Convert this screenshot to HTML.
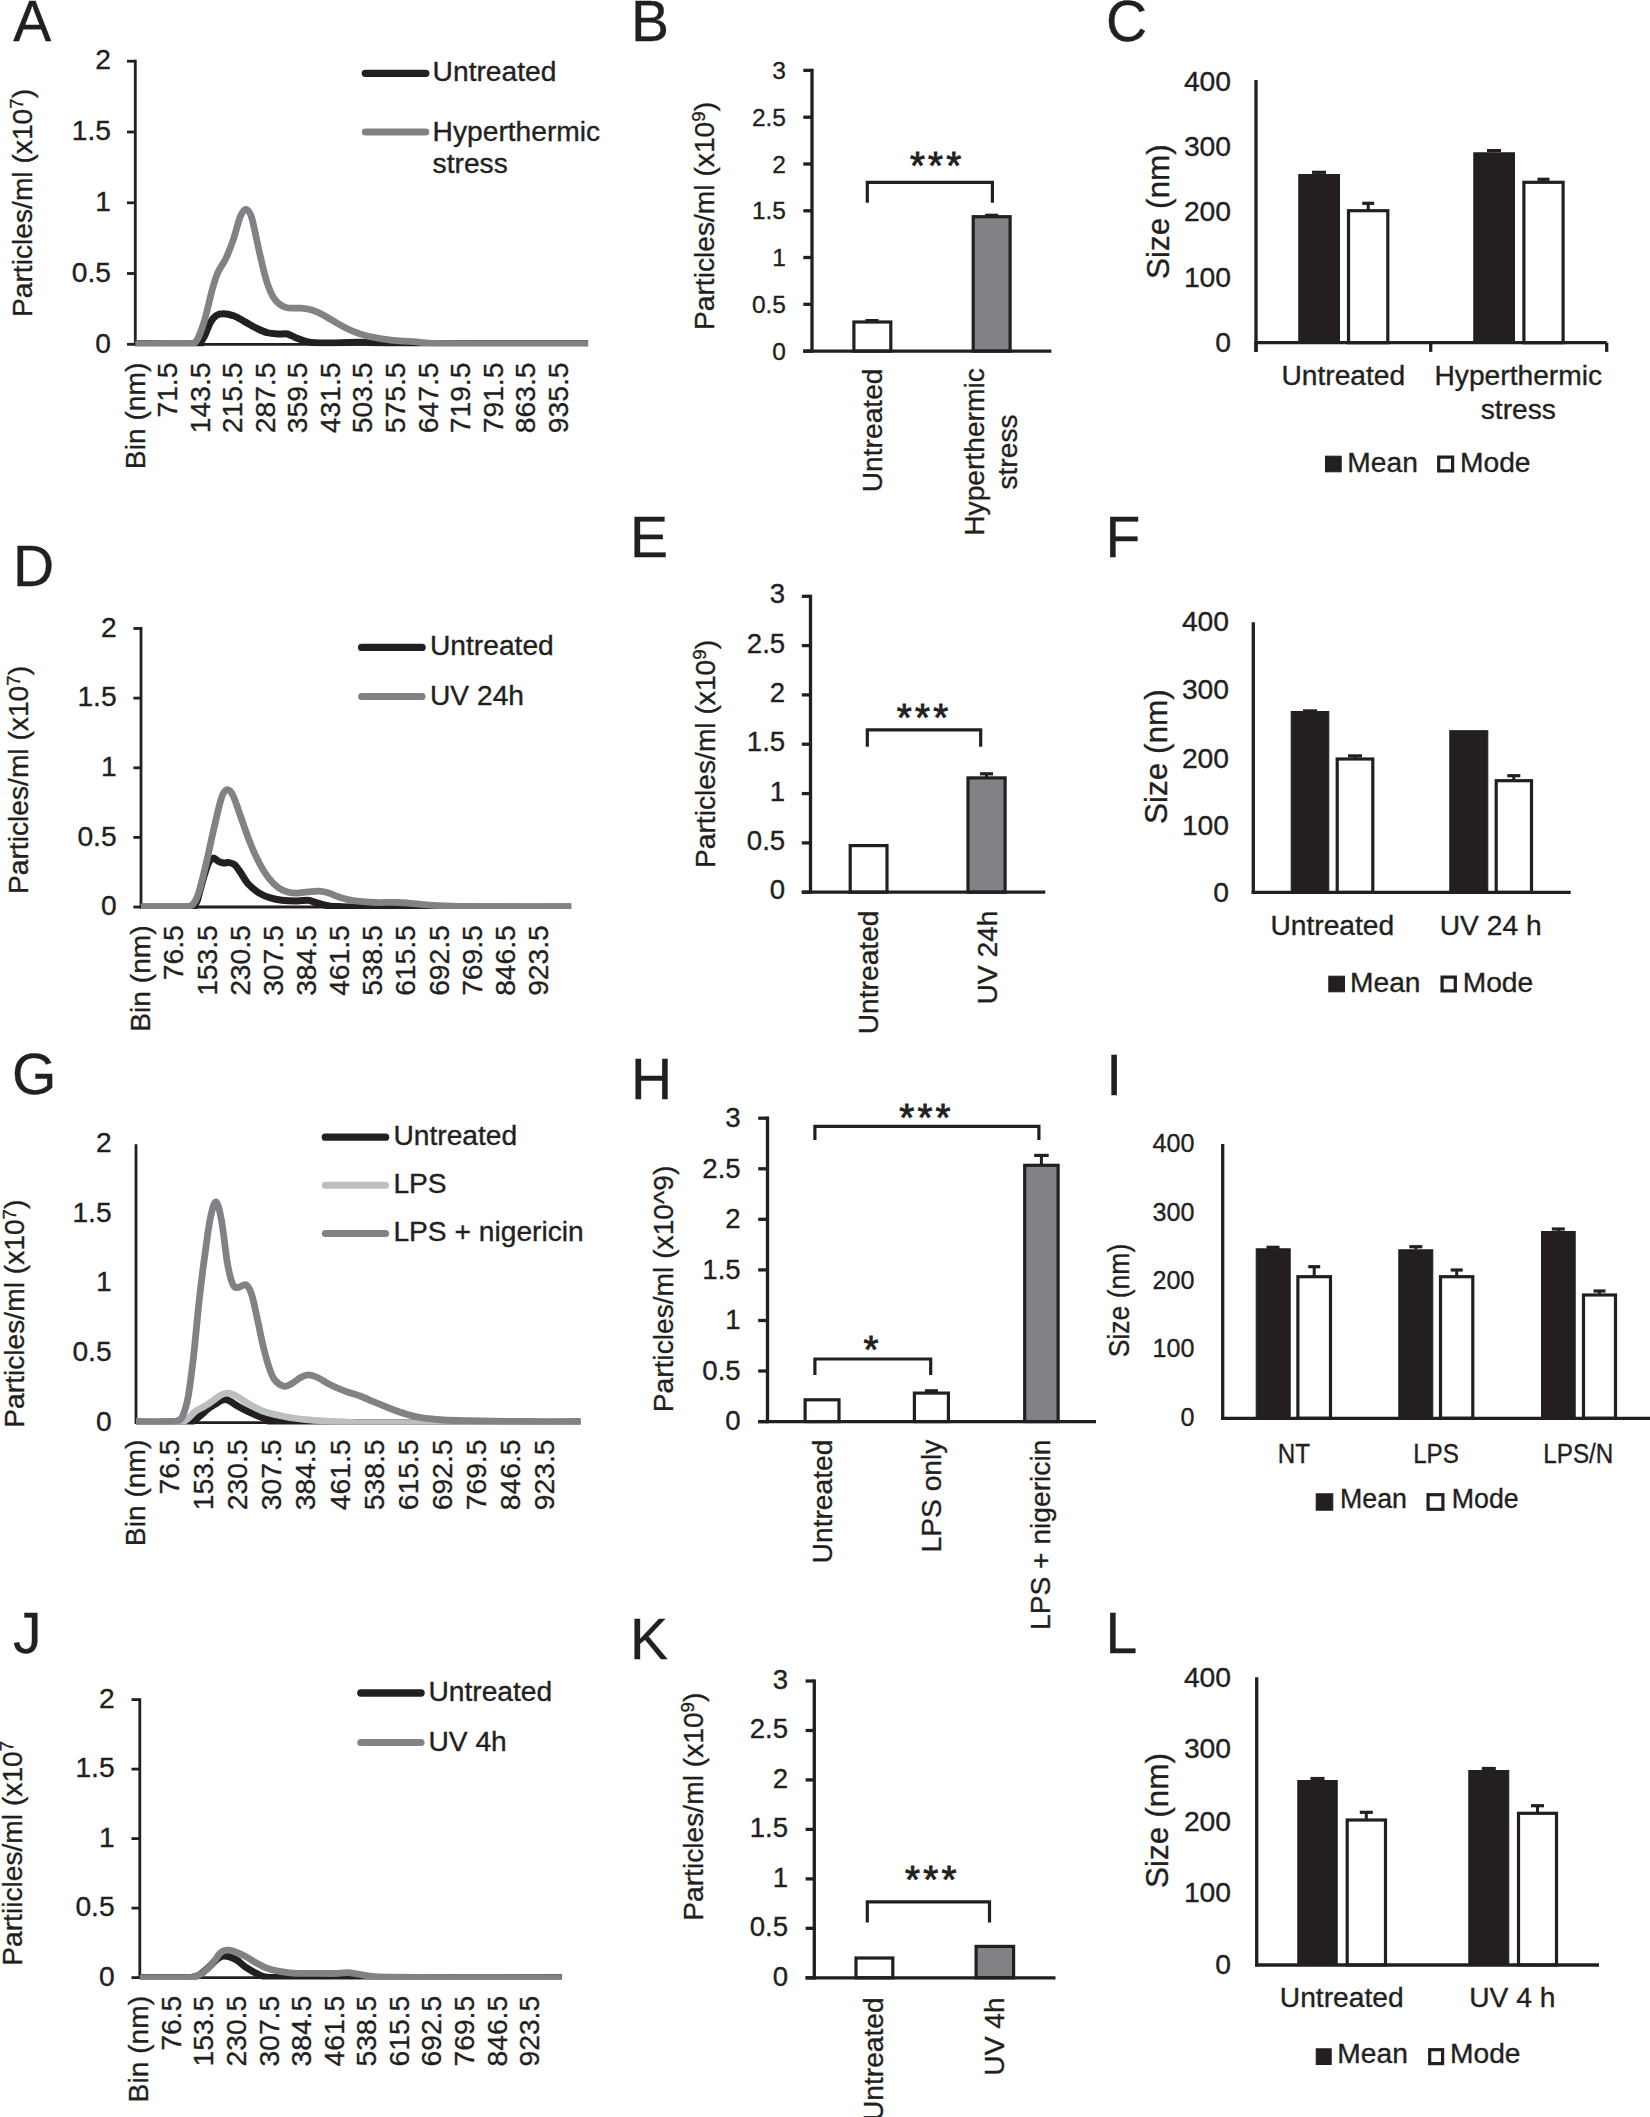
<!DOCTYPE html>
<html><head><meta charset="utf-8"><title>Figure</title>
<style>
html,body{margin:0;padding:0;background:#fff;}
svg{display:block;}
svg text{font-family:'Liberation Sans', sans-serif;fill:#231f20;stroke:#231f20;stroke-width:0.35px;}
</style></head>
<body>
<svg width="1650" height="2117" viewBox="0 0 1650 2117">
<rect x="0" y="0" width="1650" height="2117" fill="#fff"/>
<text x="13.3" y="41.0" font-size="57" text-anchor="start">A</text>
<line x1="135.3" y1="59.8" x2="135.3" y2="345.7" stroke="#231f20" stroke-width="2.8" stroke-linecap="butt"/>
<line x1="134.8" y1="344.3" x2="588.0" y2="344.3" stroke="#231f20" stroke-width="2.8" stroke-linecap="butt"/>
<line x1="127.0" y1="61.2" x2="135.3" y2="61.2" stroke="#231f20" stroke-width="2.8" stroke-linecap="butt"/>
<text x="111.0" y="69.4" font-size="28.2" text-anchor="end">2</text>
<line x1="127.0" y1="132.0" x2="135.3" y2="132.0" stroke="#231f20" stroke-width="2.8" stroke-linecap="butt"/>
<text x="111.0" y="140.2" font-size="28.2" text-anchor="end">1.5</text>
<line x1="127.0" y1="202.8" x2="135.3" y2="202.8" stroke="#231f20" stroke-width="2.8" stroke-linecap="butt"/>
<text x="111.0" y="211.0" font-size="28.2" text-anchor="end">1</text>
<line x1="127.0" y1="273.5" x2="135.3" y2="273.5" stroke="#231f20" stroke-width="2.8" stroke-linecap="butt"/>
<text x="111.0" y="281.7" font-size="28.2" text-anchor="end">0.5</text>
<line x1="127.0" y1="344.3" x2="135.3" y2="344.3" stroke="#231f20" stroke-width="2.8" stroke-linecap="butt"/>
<text x="111.0" y="352.5" font-size="28.2" text-anchor="end">0</text>
<text x="144.7" y="362.6" font-size="28.2" text-anchor="end" transform="rotate(-90 144.7 362.6)">Bin (nm)</text>
<text x="177.2" y="362.6" font-size="28.2" text-anchor="end" transform="rotate(-90 177.2 362.6)">71.5</text>
<text x="209.8" y="362.6" font-size="28.2" text-anchor="end" transform="rotate(-90 209.8 362.6)">143.5</text>
<text x="242.3" y="362.6" font-size="28.2" text-anchor="end" transform="rotate(-90 242.3 362.6)">215.5</text>
<text x="274.9" y="362.6" font-size="28.2" text-anchor="end" transform="rotate(-90 274.9 362.6)">287.5</text>
<text x="307.4" y="362.6" font-size="28.2" text-anchor="end" transform="rotate(-90 307.4 362.6)">359.5</text>
<text x="340.0" y="362.6" font-size="28.2" text-anchor="end" transform="rotate(-90 340.0 362.6)">431.5</text>
<text x="372.5" y="362.6" font-size="28.2" text-anchor="end" transform="rotate(-90 372.5 362.6)">503.5</text>
<text x="405.1" y="362.6" font-size="28.2" text-anchor="end" transform="rotate(-90 405.1 362.6)">575.5</text>
<text x="437.6" y="362.6" font-size="28.2" text-anchor="end" transform="rotate(-90 437.6 362.6)">647.5</text>
<text x="470.2" y="362.6" font-size="28.2" text-anchor="end" transform="rotate(-90 470.2 362.6)">719.5</text>
<text x="502.7" y="362.6" font-size="28.2" text-anchor="end" transform="rotate(-90 502.7 362.6)">791.5</text>
<text x="535.3" y="362.6" font-size="28.2" text-anchor="end" transform="rotate(-90 535.3 362.6)">863.5</text>
<text x="567.8" y="362.6" font-size="28.2" text-anchor="end" transform="rotate(-90 567.8 362.6)">935.5</text>
<text x="31.5" y="203.0" font-size="28.2" text-anchor="middle" transform="rotate(-90 31.5 203.0)">Particles/ml (x10<tspan font-size="18.6" dy="-8.5">7</tspan><tspan dy="8.5">)</tspan></text>
<clipPath id="cp1"><rect x="129.3" y="31.2" width="464.7" height="315.1"/></clipPath>
<g clip-path="url(#cp1)">
<path d="M135.3,343.8 C145.3,343.8 184.6,344.0 195.4,343.8 C206.2,343.6 198.3,344.1 199.9,342.7 C201.5,341.3 203.0,338.9 204.8,335.6 C206.5,332.2 208.5,325.7 210.4,322.4 C212.3,319.1 213.9,317.1 216.1,315.6 C218.3,314.2 220.8,313.8 223.6,313.8 C226.4,313.8 229.5,314.4 233.0,315.6 C236.4,316.9 240.5,319.3 244.2,321.3 C248.0,323.3 251.8,325.8 255.5,327.7 C259.3,329.5 263.0,331.5 266.8,332.5 C270.5,333.6 274.6,333.8 278.1,334.0 C281.5,334.3 284.3,333.4 287.5,334.0 C290.6,334.7 293.4,336.9 296.8,338.2 C300.3,339.5 303.7,341.1 308.1,341.9 C312.5,342.8 314.4,343.0 323.2,343.1 C331.9,343.1 352.0,342.3 360.7,342.3 C369.5,342.3 367.0,342.8 375.8,343.1 C384.5,343.3 377.9,343.7 413.3,343.8 C448.7,343.9 558.9,343.8 588.1,343.8" fill="none" stroke="#231f20" stroke-width="7.0" stroke-linecap="butt" stroke-linejoin="round"/>
<path d="M135.3,343.8 C142.2,343.8 167.2,343.9 176.6,343.8 C186.0,343.8 188.2,344.2 191.6,343.4 C195.1,342.7 195.1,343.3 197.3,339.3 C199.5,335.3 202.3,327.7 204.8,319.4 C207.3,311.1 210.1,297.2 212.3,289.3 C214.5,281.5 215.7,277.4 217.9,272.4 C220.1,267.4 222.9,264.6 225.5,259.3 C228.0,253.9 230.5,247.7 233.0,240.5 C235.5,233.3 238.3,221.3 240.5,216.1 C242.7,210.9 244.2,209.0 246.1,209.3 C248.0,209.6 249.6,210.9 251.8,217.9 C253.9,225.0 256.8,241.1 259.3,251.8 C261.8,262.4 264.3,274.0 266.8,281.8 C269.3,289.6 271.2,294.5 274.3,298.7 C277.4,303.0 281.2,305.8 285.6,307.4 C290.0,308.9 296.2,307.7 300.6,308.1 C305.0,308.6 308.1,308.9 311.9,310.0 C315.6,311.1 318.8,312.6 323.2,314.9 C327.5,317.2 333.2,321.1 338.2,323.9 C343.2,326.7 348.2,329.4 353.2,331.4 C358.2,333.5 362.0,334.9 368.2,336.3 C374.5,337.7 383.3,339.2 390.8,340.1 C398.3,340.9 405.8,341.0 413.3,341.6 C420.8,342.1 423.4,343.1 435.9,343.4 C448.4,343.8 463.1,343.8 488.5,343.8 C513.8,343.9 571.5,343.8 588.1,343.8" fill="none" stroke="#808285" stroke-width="6.8" stroke-linecap="butt" stroke-linejoin="round"/>
</g>
<line x1="365.3" y1="73.3" x2="425.8" y2="73.3" stroke="#231f20" stroke-width="7.3" stroke-linecap="round"/>
<text x="432.6" y="80.8" font-size="28.2" text-anchor="start">Untreated</text>
<line x1="365.3" y1="132.0" x2="425.8" y2="132.0" stroke="#808285" stroke-width="7.0" stroke-linecap="round"/>
<text x="432.6" y="141.0" font-size="28.2" text-anchor="start">Hyperthermic</text>
<text x="432.6" y="173.0" font-size="28.2" text-anchor="start">stress</text>
<text x="13.0" y="586.4" font-size="57" text-anchor="start">D</text>
<line x1="141.0" y1="627.1" x2="141.0" y2="908.4" stroke="#231f20" stroke-width="2.8" stroke-linecap="butt"/>
<line x1="140.5" y1="907.0" x2="571.0" y2="907.0" stroke="#231f20" stroke-width="2.8" stroke-linecap="butt"/>
<line x1="133.4" y1="628.5" x2="141.0" y2="628.5" stroke="#231f20" stroke-width="2.8" stroke-linecap="butt"/>
<text x="116.6" y="636.7" font-size="28.2" text-anchor="end">2</text>
<line x1="133.4" y1="698.1" x2="141.0" y2="698.1" stroke="#231f20" stroke-width="2.8" stroke-linecap="butt"/>
<text x="116.6" y="706.3" font-size="28.2" text-anchor="end">1.5</text>
<line x1="133.4" y1="767.8" x2="141.0" y2="767.8" stroke="#231f20" stroke-width="2.8" stroke-linecap="butt"/>
<text x="116.6" y="776.0" font-size="28.2" text-anchor="end">1</text>
<line x1="133.4" y1="837.4" x2="141.0" y2="837.4" stroke="#231f20" stroke-width="2.8" stroke-linecap="butt"/>
<text x="116.6" y="845.6" font-size="28.2" text-anchor="end">0.5</text>
<line x1="133.4" y1="907.0" x2="141.0" y2="907.0" stroke="#231f20" stroke-width="2.8" stroke-linecap="butt"/>
<text x="116.6" y="915.2" font-size="28.2" text-anchor="end">0</text>
<text x="150.3" y="925.3" font-size="28.2" text-anchor="end" transform="rotate(-90 150.3 925.3)">Bin (nm)</text>
<text x="183.5" y="925.3" font-size="28.2" text-anchor="end" transform="rotate(-90 183.5 925.3)">76.5</text>
<text x="216.6" y="925.3" font-size="28.2" text-anchor="end" transform="rotate(-90 216.6 925.3)">153.5</text>
<text x="249.8" y="925.3" font-size="28.2" text-anchor="end" transform="rotate(-90 249.8 925.3)">230.5</text>
<text x="282.9" y="925.3" font-size="28.2" text-anchor="end" transform="rotate(-90 282.9 925.3)">307.5</text>
<text x="316.1" y="925.3" font-size="28.2" text-anchor="end" transform="rotate(-90 316.1 925.3)">384.5</text>
<text x="349.2" y="925.3" font-size="28.2" text-anchor="end" transform="rotate(-90 349.2 925.3)">461.5</text>
<text x="382.4" y="925.3" font-size="28.2" text-anchor="end" transform="rotate(-90 382.4 925.3)">538.5</text>
<text x="415.5" y="925.3" font-size="28.2" text-anchor="end" transform="rotate(-90 415.5 925.3)">615.5</text>
<text x="448.6" y="925.3" font-size="28.2" text-anchor="end" transform="rotate(-90 448.6 925.3)">692.5</text>
<text x="481.8" y="925.3" font-size="28.2" text-anchor="end" transform="rotate(-90 481.8 925.3)">769.5</text>
<text x="515.0" y="925.3" font-size="28.2" text-anchor="end" transform="rotate(-90 515.0 925.3)">846.5</text>
<text x="548.1" y="925.3" font-size="28.2" text-anchor="end" transform="rotate(-90 548.1 925.3)">923.5</text>
<text x="28.2" y="780.0" font-size="28.2" text-anchor="middle" transform="rotate(-90 28.2 780.0)">Particles/ml (x10<tspan font-size="18.6" dy="-8.5">7</tspan><tspan dy="8.5">)</tspan></text>
<clipPath id="cp2"><rect x="135.0" y="598.5" width="442.0" height="310.5"/></clipPath>
<g clip-path="url(#cp2)">
<path d="M140.9,907.0 C149.1,907.0 181.0,907.1 189.8,907.0 C198.5,906.8 192.3,907.3 193.5,906.2 C194.8,905.1 195.7,905.0 197.3,900.6 C198.8,896.2 201.0,886.2 202.9,879.9 C204.8,873.6 206.8,866.6 208.5,863.0 C210.3,859.4 211.9,858.4 213.4,858.1 C215.0,857.8 216.2,860.3 217.9,861.1 C219.6,861.9 221.7,862.7 223.6,863.0 C225.5,863.2 227.3,862.3 229.2,862.6 C231.1,862.9 233.0,863.2 234.8,864.9 C236.7,866.5 238.3,869.3 240.5,872.4 C242.7,875.5 244.9,880.2 248.0,883.7 C251.1,887.1 255.5,890.7 259.3,893.1 C263.0,895.4 266.8,896.8 270.5,897.9 C274.3,899.1 277.4,899.7 281.8,900.2 C286.2,900.7 292.5,900.9 296.8,900.9 C301.2,900.9 305.0,899.9 308.1,900.2 C311.3,900.4 312.5,901.6 315.6,902.5 C318.8,903.3 323.2,904.8 326.9,905.5 C330.7,906.1 330.0,906.3 338.2,906.6 C346.3,906.8 336.9,906.9 375.8,907.0 C414.6,907.0 538.6,907.0 571.2,907.0" fill="none" stroke="#231f20" stroke-width="7.0" stroke-linecap="butt" stroke-linejoin="round"/>
<path d="M140.9,907.0 C147.5,907.0 172.5,907.0 180.4,907.0 C188.2,906.9 185.7,907.1 187.9,906.6 C190.1,906.0 191.6,906.1 193.5,903.6 C195.4,901.0 197.0,898.3 199.2,891.2 C201.3,884.1 204.2,871.8 206.7,861.1 C209.2,850.5 211.7,837.9 214.2,827.3 C216.7,816.7 219.5,803.5 221.7,797.2 C223.9,791.0 225.5,790.0 227.3,789.7 C229.2,789.4 230.8,791.0 233.0,795.4 C235.2,799.7 237.7,808.2 240.5,816.0 C243.3,823.9 246.7,834.5 249.9,842.3 C253.0,850.2 256.1,857.0 259.3,863.0 C262.4,868.9 265.5,874.0 268.7,878.0 C271.8,882.1 274.9,885.1 278.1,887.4 C281.2,889.7 284.3,891.0 287.5,891.9 C290.6,892.9 293.4,893.1 296.8,893.1 C300.3,893.1 304.4,892.2 308.1,891.9 C311.9,891.6 315.9,891.0 319.4,891.2 C322.8,891.4 325.7,892.1 328.8,893.1 C331.9,894.0 334.1,895.6 338.2,896.8 C342.3,898.1 346.9,899.6 353.2,900.6 C359.5,901.5 368.2,902.1 375.8,902.5 C383.3,902.8 390.8,902.1 398.3,902.5 C405.8,902.8 412.1,903.7 420.8,904.3 C429.6,905.0 439.6,905.8 450.9,906.2 C462.2,906.6 468.4,906.8 488.5,907.0 C508.5,907.1 557.4,907.0 571.2,907.0" fill="none" stroke="#808285" stroke-width="6.8" stroke-linecap="butt" stroke-linejoin="round"/>
</g>
<line x1="361.6" y1="647.4" x2="422.1" y2="647.4" stroke="#231f20" stroke-width="7.3" stroke-linecap="round"/>
<text x="430.0" y="654.8" font-size="28.2" text-anchor="start">Untreated</text>
<line x1="361.6" y1="696.4" x2="422.1" y2="696.4" stroke="#808285" stroke-width="7.0" stroke-linecap="round"/>
<text x="430.0" y="704.7" font-size="28.2" text-anchor="start">UV 24h</text>
<text x="12.0" y="1094.2" font-size="57" text-anchor="start">G</text>
<line x1="136.0" y1="1144.3" x2="136.0" y2="1424.0" stroke="#231f20" stroke-width="2.8" stroke-linecap="butt"/>
<line x1="135.5" y1="1422.6" x2="580.6" y2="1422.6" stroke="#231f20" stroke-width="2.8" stroke-linecap="butt"/>
<text x="111.6" y="1151.9" font-size="28.2" text-anchor="end">2</text>
<text x="111.6" y="1221.8" font-size="28.2" text-anchor="end">1.5</text>
<text x="111.6" y="1291.3" font-size="28.2" text-anchor="end">1</text>
<text x="111.6" y="1361.0" font-size="28.2" text-anchor="end">0.5</text>
<text x="111.6" y="1430.6" font-size="28.2" text-anchor="end">0</text>
<text x="144.7" y="1439.6" font-size="28.2" text-anchor="end" transform="rotate(-90 144.7 1439.6)">Bin (nm)</text>
<text x="178.8" y="1439.6" font-size="28.2" text-anchor="end" transform="rotate(-90 178.8 1439.6)">76.5</text>
<text x="213.0" y="1439.6" font-size="28.2" text-anchor="end" transform="rotate(-90 213.0 1439.6)">153.5</text>
<text x="247.1" y="1439.6" font-size="28.2" text-anchor="end" transform="rotate(-90 247.1 1439.6)">230.5</text>
<text x="281.3" y="1439.6" font-size="28.2" text-anchor="end" transform="rotate(-90 281.3 1439.6)">307.5</text>
<text x="315.4" y="1439.6" font-size="28.2" text-anchor="end" transform="rotate(-90 315.4 1439.6)">384.5</text>
<text x="349.6" y="1439.6" font-size="28.2" text-anchor="end" transform="rotate(-90 349.6 1439.6)">461.5</text>
<text x="383.8" y="1439.6" font-size="28.2" text-anchor="end" transform="rotate(-90 383.8 1439.6)">538.5</text>
<text x="417.9" y="1439.6" font-size="28.2" text-anchor="end" transform="rotate(-90 417.9 1439.6)">615.5</text>
<text x="452.0" y="1439.6" font-size="28.2" text-anchor="end" transform="rotate(-90 452.0 1439.6)">692.5</text>
<text x="486.2" y="1439.6" font-size="28.2" text-anchor="end" transform="rotate(-90 486.2 1439.6)">769.5</text>
<text x="520.3" y="1439.6" font-size="28.2" text-anchor="end" transform="rotate(-90 520.3 1439.6)">846.5</text>
<text x="554.5" y="1439.6" font-size="28.2" text-anchor="end" transform="rotate(-90 554.5 1439.6)">923.5</text>
<text x="24.4" y="1313.7" font-size="28.2" text-anchor="middle" transform="rotate(-90 24.4 1313.7)">Particles/ml (x10<tspan font-size="18.6" dy="-8.5">7</tspan><tspan dy="8.5">)</tspan></text>
<clipPath id="cp3"><rect x="130.0" y="1115.7" width="456.6" height="308.9"/></clipPath>
<g clip-path="url(#cp3)">
<path d="M136.0,1422.6 C144.3,1422.6 176.8,1422.7 186.0,1422.6 C195.2,1422.5 189.6,1422.5 191.0,1422.2 C192.4,1421.9 193.0,1421.4 194.2,1420.6 C195.4,1419.8 196.6,1418.8 198.1,1417.6 C199.6,1416.4 201.2,1415.0 203.0,1413.4 C204.8,1411.8 206.5,1409.9 208.8,1408.2 C211.1,1406.5 214.6,1404.7 216.6,1403.4 C218.6,1402.1 219.6,1401.2 221.0,1400.6 C222.4,1400.0 224.0,1399.6 225.3,1399.6 C226.6,1399.6 227.9,1400.1 229.0,1400.6 C230.1,1401.1 230.6,1401.5 232.1,1402.5 C233.6,1403.5 235.3,1404.8 237.9,1406.3 C240.5,1407.8 243.7,1409.6 247.6,1411.4 C251.5,1413.2 257.2,1415.8 261.2,1417.3 C265.2,1418.8 268.4,1419.6 271.8,1420.4 C275.2,1421.2 277.6,1421.6 281.5,1422.0 C285.4,1422.4 245.2,1422.5 295.0,1422.6 C344.9,1422.7 533.0,1422.6 580.6,1422.6" fill="none" stroke="#231f20" stroke-width="7.0" stroke-linecap="butt" stroke-linejoin="round"/>
<path d="M136.0,1422.6 C143.0,1422.6 170.2,1422.7 178.0,1422.6 C185.8,1422.5 181.2,1422.5 182.5,1422.2 C183.8,1421.9 184.3,1421.3 185.5,1420.5 C186.7,1419.7 187.8,1418.8 189.4,1417.3 C191.0,1415.8 193.1,1413.1 195.2,1411.5 C197.3,1409.9 199.7,1408.9 202.0,1407.6 C204.3,1406.3 206.4,1405.3 208.8,1403.7 C211.2,1402.1 214.4,1399.4 216.6,1397.9 C218.8,1396.4 220.2,1395.3 222.0,1394.5 C223.8,1393.7 225.4,1393.2 227.2,1393.2 C228.9,1393.2 230.7,1393.6 232.5,1394.2 C234.3,1394.8 235.4,1395.4 237.9,1396.9 C240.4,1398.4 244.4,1401.2 247.6,1403.2 C250.8,1405.2 254.1,1407.0 257.3,1408.6 C260.5,1410.2 262.1,1411.2 267.0,1412.6 C271.9,1414.0 279.9,1415.8 286.4,1417.0 C292.9,1418.2 299.3,1418.9 305.8,1419.6 C312.3,1420.3 318.7,1420.7 325.2,1421.1 C331.7,1421.5 336.5,1421.8 345.0,1422.0 C353.5,1422.2 336.7,1422.5 376.0,1422.6 C415.3,1422.7 546.5,1422.6 580.6,1422.6" fill="none" stroke="#bcbec0" stroke-width="6.8" stroke-linecap="butt" stroke-linejoin="round"/>
<path d="M136.0,1421.5 C141.8,1421.5 164.1,1421.6 171.0,1421.5 C177.9,1421.4 175.5,1421.5 177.4,1420.7 C179.2,1420.0 180.5,1420.7 182.2,1417.0 C184.0,1413.2 186.0,1408.2 187.9,1398.2 C189.8,1388.2 191.6,1373.1 193.5,1356.8 C195.4,1340.6 197.3,1317.4 199.2,1300.5 C201.0,1283.6 202.9,1269.2 204.8,1255.4 C206.7,1241.6 208.5,1226.7 210.4,1217.8 C212.3,1208.9 214.2,1201.4 216.1,1202.0 C217.9,1202.7 219.8,1211.4 221.7,1221.6 C223.6,1231.7 225.5,1252.4 227.3,1262.9 C229.2,1273.4 231.1,1280.6 233.0,1284.7 C234.8,1288.8 236.4,1287.3 238.6,1287.3 C240.8,1287.3 243.9,1283.5 246.1,1284.7 C248.3,1286.0 249.9,1289.1 251.8,1294.8 C253.6,1300.6 255.5,1310.8 257.4,1319.3 C259.3,1327.7 261.2,1337.7 263.0,1345.6 C264.9,1353.4 266.8,1360.6 268.7,1366.2 C270.5,1371.9 271.8,1376.1 274.3,1379.4 C276.8,1382.7 280.9,1385.4 283.7,1386.2 C286.5,1386.9 288.4,1385.3 291.2,1383.9 C294.0,1382.5 297.8,1379.0 300.6,1377.5 C303.4,1376.0 305.3,1374.9 308.1,1374.9 C310.9,1374.9 313.8,1375.8 317.5,1377.5 C321.3,1379.2 326.0,1382.7 330.7,1385.0 C335.4,1387.3 340.7,1389.5 345.7,1391.4 C350.7,1393.3 355.7,1394.4 360.7,1396.3 C365.7,1398.2 370.7,1400.6 375.8,1402.7 C380.8,1404.8 385.8,1406.8 390.8,1408.7 C395.8,1410.6 400.8,1412.5 405.8,1414.0 C410.8,1415.5 414.6,1416.7 420.8,1417.7 C427.1,1418.7 435.3,1419.5 443.4,1420.0 C451.5,1420.5 455.9,1420.5 469.7,1420.7 C483.5,1421.0 507.6,1421.4 526.1,1421.5 C544.5,1421.6 571.5,1421.5 580.5,1421.5" fill="none" stroke="#808285" stroke-width="6.8" stroke-linecap="butt" stroke-linejoin="round"/>
</g>
<line x1="325.3" y1="1137.2" x2="385.6" y2="1137.2" stroke="#231f20" stroke-width="7.3" stroke-linecap="round"/>
<text x="393.4" y="1144.6" font-size="28.2" text-anchor="start">Untreated</text>
<line x1="325.3" y1="1185.2" x2="385.6" y2="1185.2" stroke="#bcbec0" stroke-width="7.0" stroke-linecap="round"/>
<text x="393.4" y="1192.6" font-size="28.2" text-anchor="start">LPS</text>
<line x1="325.3" y1="1233.4" x2="385.6" y2="1233.4" stroke="#808285" stroke-width="7.0" stroke-linecap="round"/>
<text x="393.4" y="1241.0" font-size="28.2" text-anchor="start">LPS + nigericin</text>
<text x="13.0" y="1653.0" font-size="57" text-anchor="start">J</text>
<line x1="139.8" y1="1698.2" x2="139.8" y2="1979.0" stroke="#231f20" stroke-width="2.8" stroke-linecap="butt"/>
<line x1="139.3" y1="1977.6" x2="561.8" y2="1977.6" stroke="#231f20" stroke-width="2.8" stroke-linecap="butt"/>
<line x1="131.5" y1="1699.6" x2="139.8" y2="1699.6" stroke="#231f20" stroke-width="2.8" stroke-linecap="butt"/>
<text x="114.6" y="1707.8" font-size="28.2" text-anchor="end">2</text>
<line x1="131.5" y1="1769.1" x2="139.8" y2="1769.1" stroke="#231f20" stroke-width="2.8" stroke-linecap="butt"/>
<text x="114.6" y="1777.3" font-size="28.2" text-anchor="end">1.5</text>
<line x1="131.5" y1="1838.6" x2="139.8" y2="1838.6" stroke="#231f20" stroke-width="2.8" stroke-linecap="butt"/>
<text x="114.6" y="1846.8" font-size="28.2" text-anchor="end">1</text>
<line x1="131.5" y1="1908.1" x2="139.8" y2="1908.1" stroke="#231f20" stroke-width="2.8" stroke-linecap="butt"/>
<text x="114.6" y="1916.3" font-size="28.2" text-anchor="end">0.5</text>
<line x1="131.5" y1="1977.6" x2="139.8" y2="1977.6" stroke="#231f20" stroke-width="2.8" stroke-linecap="butt"/>
<text x="114.6" y="1985.8" font-size="28.2" text-anchor="end">0</text>
<text x="148.4" y="1995.9" font-size="28.2" text-anchor="end" transform="rotate(-90 148.4 1995.9)">Bin (nm)</text>
<text x="181.0" y="1995.9" font-size="28.2" text-anchor="end" transform="rotate(-90 181.0 1995.9)">76.5</text>
<text x="213.5" y="1995.9" font-size="28.2" text-anchor="end" transform="rotate(-90 213.5 1995.9)">153.5</text>
<text x="246.1" y="1995.9" font-size="28.2" text-anchor="end" transform="rotate(-90 246.1 1995.9)">230.5</text>
<text x="278.7" y="1995.9" font-size="28.2" text-anchor="end" transform="rotate(-90 278.7 1995.9)">307.5</text>
<text x="311.2" y="1995.9" font-size="28.2" text-anchor="end" transform="rotate(-90 311.2 1995.9)">384.5</text>
<text x="343.8" y="1995.9" font-size="28.2" text-anchor="end" transform="rotate(-90 343.8 1995.9)">461.5</text>
<text x="376.4" y="1995.9" font-size="28.2" text-anchor="end" transform="rotate(-90 376.4 1995.9)">538.5</text>
<text x="409.0" y="1995.9" font-size="28.2" text-anchor="end" transform="rotate(-90 409.0 1995.9)">615.5</text>
<text x="441.5" y="1995.9" font-size="28.2" text-anchor="end" transform="rotate(-90 441.5 1995.9)">692.5</text>
<text x="474.1" y="1995.9" font-size="28.2" text-anchor="end" transform="rotate(-90 474.1 1995.9)">769.5</text>
<text x="506.7" y="1995.9" font-size="28.2" text-anchor="end" transform="rotate(-90 506.7 1995.9)">846.5</text>
<text x="539.2" y="1995.9" font-size="28.2" text-anchor="end" transform="rotate(-90 539.2 1995.9)">923.5</text>
<text x="21.8" y="1965.8" font-size="28.2" text-anchor="start" transform="rotate(-90 21.8 1965.8)">Partiicles/ml (x10<tspan font-size="18.6" dy="-8.5">7</tspan><tspan dy="8.5"></tspan></text>
<clipPath id="cp4"><rect x="133.8" y="1669.6" width="434.0" height="310.0"/></clipPath>
<g clip-path="url(#cp4)">
<path d="M139.8,1977.6 C147.2,1977.6 175.8,1977.6 184.1,1977.6 C192.5,1977.6 187.7,1977.8 190.0,1977.5 C192.3,1977.2 195.3,1977.0 197.9,1975.7 C200.5,1974.4 202.8,1972.4 205.7,1969.9 C208.6,1967.4 213.1,1962.7 215.4,1960.6 C217.7,1958.5 218.2,1958.3 219.4,1957.5 C220.7,1956.8 221.5,1956.3 223.1,1956.1 C224.7,1956.0 226.7,1956.1 229.0,1956.7 C231.3,1957.4 233.8,1958.2 236.7,1960.0 C239.6,1961.9 243.2,1965.5 246.4,1967.7 C249.6,1969.9 253.2,1971.7 256.1,1973.2 C259.0,1974.7 261.1,1975.9 263.8,1976.6 C266.4,1977.3 268.3,1977.3 272.0,1977.5 C275.6,1977.7 275.8,1977.6 285.6,1977.6 C295.4,1977.6 321.3,1977.8 330.7,1977.6 C340.1,1977.4 338.2,1976.5 341.9,1976.5 C345.7,1976.5 316.6,1977.4 353.2,1977.6 C389.8,1977.8 527.0,1977.6 561.8,1977.6" fill="none" stroke="#231f20" stroke-width="7.0" stroke-linecap="butt" stroke-linejoin="round"/>
<path d="M139.8,1977.6 C147.5,1977.6 177.3,1977.6 186.0,1977.6 C194.7,1977.5 190.0,1977.6 192.0,1977.3 C194.0,1977.0 196.1,1976.4 198.0,1975.6 C200.0,1974.7 202.1,1973.3 203.7,1972.2 C205.2,1971.1 205.5,1970.9 207.4,1968.8 C209.4,1966.7 213.4,1962.0 215.3,1959.6 C217.3,1957.2 217.8,1955.7 219.1,1954.3 C220.4,1952.9 221.9,1951.8 223.2,1951.1 C224.5,1950.4 225.3,1950.3 227.0,1950.2 C228.6,1950.2 230.1,1950.0 233.0,1950.9 C235.9,1951.8 240.5,1953.8 244.2,1955.8 C248.0,1957.7 251.8,1960.5 255.5,1962.5 C259.3,1964.6 263.0,1966.7 266.8,1968.2 C270.5,1969.6 273.7,1970.4 278.1,1971.2 C282.4,1972.0 286.2,1972.7 293.1,1973.1 C300.0,1973.4 311.9,1973.4 319.4,1973.4 C326.9,1973.5 333.5,1973.6 338.2,1973.4 C342.9,1973.3 344.4,1972.6 347.6,1972.7 C350.7,1972.8 352.9,1973.2 357.0,1973.8 C361.0,1974.4 366.4,1975.9 372.0,1976.5 C377.6,1977.0 377.6,1977.0 390.8,1977.2 C403.9,1977.4 422.4,1977.5 450.9,1977.6 C479.4,1977.6 543.3,1977.6 561.8,1977.6" fill="none" stroke="#808285" stroke-width="6.8" stroke-linecap="butt" stroke-linejoin="round"/>
</g>
<line x1="360.8" y1="1693.0" x2="421.1" y2="1693.0" stroke="#231f20" stroke-width="7.3" stroke-linecap="round"/>
<text x="428.4" y="1700.9" font-size="28.2" text-anchor="start">Untreated</text>
<line x1="360.8" y1="1742.5" x2="421.1" y2="1742.5" stroke="#808285" stroke-width="7.0" stroke-linecap="round"/>
<text x="428.4" y="1750.8" font-size="28.2" text-anchor="start">UV 4h</text>
<text x="631.0" y="41.1" font-size="57" text-anchor="start">B</text>
<rect x="853.9" y="322.0" width="36.9" height="29.1" fill="#fff" stroke="#231f20" stroke-width="3.2"/>
<rect x="973.2" y="216.7" width="36.9" height="134.4" fill="#808285" stroke="#231f20" stroke-width="3.2"/>
<line x1="872.0" y1="320.6" x2="872.0" y2="322.0" stroke="#231f20" stroke-width="3.0" stroke-linecap="butt"/>
<line x1="865.5" y1="320.6" x2="878.5" y2="320.6" stroke="#231f20" stroke-width="3.2" stroke-linecap="butt"/>
<line x1="991.7" y1="215.3" x2="991.7" y2="216.7" stroke="#231f20" stroke-width="3.0" stroke-linecap="butt"/>
<line x1="985.2" y1="215.3" x2="998.2" y2="215.3" stroke="#231f20" stroke-width="3.2" stroke-linecap="butt"/>
<line x1="812.0" y1="68.8" x2="812.0" y2="352.7" stroke="#231f20" stroke-width="3.3" stroke-linecap="butt"/>
<line x1="803.3" y1="351.1" x2="1051.4" y2="351.1" stroke="#231f20" stroke-width="3.3" stroke-linecap="butt"/>
<line x1="803.3" y1="70.4" x2="812.0" y2="70.4" stroke="#231f20" stroke-width="3.3" stroke-linecap="butt"/>
<text x="786.0" y="79.0" font-size="24.5" text-anchor="end">3</text>
<line x1="803.3" y1="117.2" x2="812.0" y2="117.2" stroke="#231f20" stroke-width="3.3" stroke-linecap="butt"/>
<text x="786.0" y="125.8" font-size="24.5" text-anchor="end">2.5</text>
<line x1="803.3" y1="164.0" x2="812.0" y2="164.0" stroke="#231f20" stroke-width="3.3" stroke-linecap="butt"/>
<text x="786.0" y="172.6" font-size="24.5" text-anchor="end">2</text>
<line x1="803.3" y1="210.8" x2="812.0" y2="210.8" stroke="#231f20" stroke-width="3.3" stroke-linecap="butt"/>
<text x="786.0" y="219.4" font-size="24.5" text-anchor="end">1.5</text>
<line x1="803.3" y1="257.5" x2="812.0" y2="257.5" stroke="#231f20" stroke-width="3.3" stroke-linecap="butt"/>
<text x="786.0" y="266.2" font-size="24.5" text-anchor="end">1</text>
<line x1="803.3" y1="304.3" x2="812.0" y2="304.3" stroke="#231f20" stroke-width="3.3" stroke-linecap="butt"/>
<text x="786.0" y="312.9" font-size="24.5" text-anchor="end">0.5</text>
<line x1="803.3" y1="351.1" x2="812.0" y2="351.1" stroke="#231f20" stroke-width="3.3" stroke-linecap="butt"/>
<text x="786.0" y="359.7" font-size="24.5" text-anchor="end">0</text>
<text x="713.7" y="216.0" font-size="28.2" text-anchor="middle" transform="rotate(-90 713.7 216.0)">Particles/ml (x10<tspan font-size="18.6" dy="-8.5">9</tspan><tspan dy="8.5">)</tspan></text>
<polyline points="867.3,202.8 867.3,182.4 992.4,182.4 992.4,202.8" fill="none" stroke="#231f20" stroke-width="3.2" stroke-linejoin="miter"/>
<text x="937.2" y="178.8" font-size="38.5" text-anchor="middle" style="stroke-width:0.9px;letter-spacing:3.2px">***</text>
<text x="881.8" y="368.5" font-size="28.2" text-anchor="end" transform="rotate(-90 881.8 368.5)">Untreated</text>
<text x="983.6" y="452.0" font-size="28.2" text-anchor="middle" transform="rotate(-90 983.6 452.0)">Hyperthermic</text>
<text x="1017.0" y="452.0" font-size="28.2" text-anchor="middle" transform="rotate(-90 1017.0 452.0)">stress</text>
<text x="630.0" y="556.8" font-size="57" text-anchor="start">E</text>
<rect x="850.2" y="845.6" width="36.8" height="46.6" fill="#fff" stroke="#231f20" stroke-width="3.2"/>
<rect x="968.0" y="777.9" width="37.1" height="114.3" fill="#808285" stroke="#231f20" stroke-width="3.2"/>
<line x1="986.5" y1="773.8" x2="986.5" y2="777.9" stroke="#231f20" stroke-width="3.0" stroke-linecap="butt"/>
<line x1="980.0" y1="773.8" x2="993.0" y2="773.8" stroke="#231f20" stroke-width="3.2" stroke-linecap="butt"/>
<line x1="810.5" y1="594.7" x2="810.5" y2="893.8" stroke="#231f20" stroke-width="3.3" stroke-linecap="butt"/>
<line x1="801.8" y1="892.2" x2="1045.3" y2="892.2" stroke="#231f20" stroke-width="3.3" stroke-linecap="butt"/>
<line x1="801.8" y1="596.3" x2="810.5" y2="596.3" stroke="#231f20" stroke-width="3.3" stroke-linecap="butt"/>
<text x="785.2" y="603.4" font-size="27.6" text-anchor="end">3</text>
<line x1="801.8" y1="645.6" x2="810.5" y2="645.6" stroke="#231f20" stroke-width="3.3" stroke-linecap="butt"/>
<text x="785.2" y="652.7" font-size="27.6" text-anchor="end">2.5</text>
<line x1="801.8" y1="694.9" x2="810.5" y2="694.9" stroke="#231f20" stroke-width="3.3" stroke-linecap="butt"/>
<text x="785.2" y="702.0" font-size="27.6" text-anchor="end">2</text>
<line x1="801.8" y1="744.2" x2="810.5" y2="744.2" stroke="#231f20" stroke-width="3.3" stroke-linecap="butt"/>
<text x="785.2" y="751.3" font-size="27.6" text-anchor="end">1.5</text>
<line x1="801.8" y1="793.6" x2="810.5" y2="793.6" stroke="#231f20" stroke-width="3.3" stroke-linecap="butt"/>
<text x="785.2" y="800.7" font-size="27.6" text-anchor="end">1</text>
<line x1="801.8" y1="842.9" x2="810.5" y2="842.9" stroke="#231f20" stroke-width="3.3" stroke-linecap="butt"/>
<text x="785.2" y="850.0" font-size="27.6" text-anchor="end">0.5</text>
<line x1="801.8" y1="892.2" x2="810.5" y2="892.2" stroke="#231f20" stroke-width="3.3" stroke-linecap="butt"/>
<text x="785.2" y="899.3" font-size="27.6" text-anchor="end">0</text>
<text x="714.5" y="754.0" font-size="28.2" text-anchor="middle" transform="rotate(-90 714.5 754.0)">Particles/ml (x10<tspan font-size="18.6" dy="-8.5">9</tspan><tspan dy="8.5">)</tspan></text>
<polyline points="867.3,746.7 867.3,729.9 980.7,729.9 980.7,746.7" fill="none" stroke="#231f20" stroke-width="3.2" stroke-linejoin="miter"/>
<text x="924.1" y="730.8" font-size="38.5" text-anchor="middle" style="stroke-width:0.9px;letter-spacing:3.2px">***</text>
<text x="877.5" y="910.5" font-size="28.2" text-anchor="end" transform="rotate(-90 877.5 910.5)">Untreated</text>
<text x="996.7" y="910.5" font-size="28.2" text-anchor="end" transform="rotate(-90 996.7 910.5)">UV 24h</text>
<text x="631.0" y="1099.3" font-size="57" text-anchor="start">H</text>
<rect x="805.1" y="1399.8" width="33.9" height="21.8" fill="#fff" stroke="#231f20" stroke-width="3.2"/>
<rect x="914.4" y="1393.1" width="34.0" height="28.5" fill="#fff" stroke="#231f20" stroke-width="3.2"/>
<rect x="1024.7" y="1165.3" width="33.4" height="256.3" fill="#808285" stroke="#231f20" stroke-width="3.2"/>
<line x1="931.4" y1="1390.8" x2="931.4" y2="1393.1" stroke="#231f20" stroke-width="3.0" stroke-linecap="butt"/>
<line x1="924.9" y1="1390.8" x2="937.9" y2="1390.8" stroke="#231f20" stroke-width="3.2" stroke-linecap="butt"/>
<line x1="1041.4" y1="1155.4" x2="1041.4" y2="1165.3" stroke="#231f20" stroke-width="3.0" stroke-linecap="butt"/>
<line x1="1034.2" y1="1155.4" x2="1048.7" y2="1155.4" stroke="#231f20" stroke-width="3.2" stroke-linecap="butt"/>
<line x1="767.5" y1="1116.6" x2="767.5" y2="1423.2" stroke="#231f20" stroke-width="3.3" stroke-linecap="butt"/>
<line x1="758.2" y1="1421.6" x2="1096.0" y2="1421.6" stroke="#231f20" stroke-width="3.3" stroke-linecap="butt"/>
<line x1="758.2" y1="1118.2" x2="767.5" y2="1118.2" stroke="#231f20" stroke-width="3.3" stroke-linecap="butt"/>
<text x="740.7" y="1126.9" font-size="27.6" text-anchor="end">3</text>
<line x1="758.2" y1="1168.8" x2="767.5" y2="1168.8" stroke="#231f20" stroke-width="3.3" stroke-linecap="butt"/>
<text x="740.7" y="1177.5" font-size="27.6" text-anchor="end">2.5</text>
<line x1="758.2" y1="1219.3" x2="767.5" y2="1219.3" stroke="#231f20" stroke-width="3.3" stroke-linecap="butt"/>
<text x="740.7" y="1228.0" font-size="27.6" text-anchor="end">2</text>
<line x1="758.2" y1="1269.9" x2="767.5" y2="1269.9" stroke="#231f20" stroke-width="3.3" stroke-linecap="butt"/>
<text x="740.7" y="1278.6" font-size="27.6" text-anchor="end">1.5</text>
<line x1="758.2" y1="1320.5" x2="767.5" y2="1320.5" stroke="#231f20" stroke-width="3.3" stroke-linecap="butt"/>
<text x="740.7" y="1329.2" font-size="27.6" text-anchor="end">1</text>
<line x1="758.2" y1="1371.0" x2="767.5" y2="1371.0" stroke="#231f20" stroke-width="3.3" stroke-linecap="butt"/>
<text x="740.7" y="1379.7" font-size="27.6" text-anchor="end">0.5</text>
<line x1="758.2" y1="1421.6" x2="767.5" y2="1421.6" stroke="#231f20" stroke-width="3.3" stroke-linecap="butt"/>
<text x="740.7" y="1430.3" font-size="27.6" text-anchor="end">0</text>
<text x="673.2" y="1289.0" font-size="28.2" text-anchor="middle" transform="rotate(-90 673.2 1289.0)">Particles/ml (x10^9)</text>
<polyline points="814.9,1140.0 814.9,1126.3 1038.9,1126.3 1038.9,1140.0" fill="none" stroke="#231f20" stroke-width="3.2" stroke-linejoin="miter"/>
<polyline points="814.9,1375.0 814.9,1359.0 930.7,1359.0 930.7,1375.0" fill="none" stroke="#231f20" stroke-width="3.2" stroke-linejoin="miter"/>
<text x="926.5" y="1131.3" font-size="38.5" text-anchor="middle" style="stroke-width:0.9px;letter-spacing:3.2px">***</text>
<text x="872.5" y="1363.3" font-size="38.5" text-anchor="middle" style="stroke-width:0.9px;letter-spacing:3.2px">*</text>
<text x="831.8" y="1439.6" font-size="28.2" text-anchor="end" transform="rotate(-90 831.8 1439.6)">Untreated</text>
<text x="941.5" y="1439.6" font-size="28.2" text-anchor="end" transform="rotate(-90 941.5 1439.6)">LPS only</text>
<text x="1050.5" y="1439.6" font-size="28.2" text-anchor="end" transform="rotate(-90 1050.5 1439.6)">LPS + nigericin</text>
<text x="630.0" y="1659.0" font-size="57" text-anchor="start">K</text>
<rect x="856.0" y="1958.0" width="36.8" height="19.8" fill="#fff" stroke="#231f20" stroke-width="3.2"/>
<rect x="976.1" y="1946.4" width="37.5" height="31.4" fill="#808285" stroke="#231f20" stroke-width="3.2"/>
<line x1="814.3" y1="1679.4" x2="814.3" y2="1979.4" stroke="#231f20" stroke-width="3.3" stroke-linecap="butt"/>
<line x1="805.6" y1="1977.8" x2="1055.5" y2="1977.8" stroke="#231f20" stroke-width="3.3" stroke-linecap="butt"/>
<line x1="805.6" y1="1681.0" x2="814.3" y2="1681.0" stroke="#231f20" stroke-width="3.3" stroke-linecap="butt"/>
<text x="788.1" y="1688.8" font-size="27.6" text-anchor="end">3</text>
<line x1="805.6" y1="1730.5" x2="814.3" y2="1730.5" stroke="#231f20" stroke-width="3.3" stroke-linecap="butt"/>
<text x="788.1" y="1738.3" font-size="27.6" text-anchor="end">2.5</text>
<line x1="805.6" y1="1779.9" x2="814.3" y2="1779.9" stroke="#231f20" stroke-width="3.3" stroke-linecap="butt"/>
<text x="788.1" y="1787.7" font-size="27.6" text-anchor="end">2</text>
<line x1="805.6" y1="1829.4" x2="814.3" y2="1829.4" stroke="#231f20" stroke-width="3.3" stroke-linecap="butt"/>
<text x="788.1" y="1837.2" font-size="27.6" text-anchor="end">1.5</text>
<line x1="805.6" y1="1878.9" x2="814.3" y2="1878.9" stroke="#231f20" stroke-width="3.3" stroke-linecap="butt"/>
<text x="788.1" y="1886.7" font-size="27.6" text-anchor="end">1</text>
<line x1="805.6" y1="1928.3" x2="814.3" y2="1928.3" stroke="#231f20" stroke-width="3.3" stroke-linecap="butt"/>
<text x="788.1" y="1936.1" font-size="27.6" text-anchor="end">0.5</text>
<line x1="805.6" y1="1977.8" x2="814.3" y2="1977.8" stroke="#231f20" stroke-width="3.3" stroke-linecap="butt"/>
<text x="788.1" y="1985.6" font-size="27.6" text-anchor="end">0</text>
<text x="702.9" y="1806.7" font-size="28.2" text-anchor="middle" transform="rotate(-90 702.9 1806.7)">Particles/ml (x10<tspan font-size="18.6" dy="-8.5">9</tspan><tspan dy="8.5">)</tspan></text>
<polyline points="867.3,1922.5 867.3,1901.9 989.5,1901.9 989.5,1922.5" fill="none" stroke="#231f20" stroke-width="3.2" stroke-linejoin="miter"/>
<text x="932.3" y="1892.8" font-size="38.5" text-anchor="middle" style="stroke-width:0.9px;letter-spacing:3.2px">***</text>
<text x="883.3" y="1997.3" font-size="28.2" text-anchor="end" transform="rotate(-90 883.3 1997.3)">Untreated</text>
<text x="1004.0" y="1997.3" font-size="28.2" text-anchor="end" transform="rotate(-90 1004.0 1997.3)">UV 4h</text>
<text x="1106.0" y="40.7" font-size="57" text-anchor="start">C</text>
<rect x="1298.8" y="174.5" width="40.7" height="168.2" fill="#231f20" stroke="#231f20" stroke-width="1"/>
<rect x="1348.5" y="210.7" width="39.3" height="132.0" fill="#fff" stroke="#231f20" stroke-width="3.2"/>
<rect x="1473.8" y="152.8" width="40.7" height="189.9" fill="#231f20" stroke="#231f20" stroke-width="1"/>
<rect x="1523.9" y="182.3" width="39.2" height="160.4" fill="#fff" stroke="#231f20" stroke-width="3.2"/>
<line x1="1319.0" y1="172.3" x2="1319.0" y2="174.0" stroke="#231f20" stroke-width="3.0" stroke-linecap="butt"/>
<line x1="1312.0" y1="172.3" x2="1326.0" y2="172.3" stroke="#231f20" stroke-width="3.2" stroke-linecap="butt"/>
<line x1="1368.2" y1="203.3" x2="1368.2" y2="210.7" stroke="#231f20" stroke-width="3.0" stroke-linecap="butt"/>
<line x1="1362.2" y1="203.3" x2="1374.2" y2="203.3" stroke="#231f20" stroke-width="3.2" stroke-linecap="butt"/>
<line x1="1494.0" y1="150.6" x2="1494.0" y2="152.3" stroke="#231f20" stroke-width="3.0" stroke-linecap="butt"/>
<line x1="1487.0" y1="150.6" x2="1501.0" y2="150.6" stroke="#231f20" stroke-width="3.2" stroke-linecap="butt"/>
<line x1="1543.5" y1="179.3" x2="1543.5" y2="182.3" stroke="#231f20" stroke-width="3.0" stroke-linecap="butt"/>
<line x1="1537.5" y1="179.3" x2="1549.5" y2="179.3" stroke="#231f20" stroke-width="3.2" stroke-linecap="butt"/>
<line x1="1256.0" y1="80.0" x2="1256.0" y2="351.9" stroke="#231f20" stroke-width="3.3" stroke-linecap="butt"/>
<line x1="1254.4" y1="342.7" x2="1606.7" y2="342.7" stroke="#231f20" stroke-width="3.3" stroke-linecap="butt"/>
<line x1="1256.0" y1="342.7" x2="1256.0" y2="351.9" stroke="#231f20" stroke-width="3.3" stroke-linecap="butt"/>
<line x1="1430.7" y1="342.7" x2="1430.7" y2="351.9" stroke="#231f20" stroke-width="3.3" stroke-linecap="butt"/>
<line x1="1606.7" y1="342.7" x2="1606.7" y2="351.9" stroke="#231f20" stroke-width="3.3" stroke-linecap="butt"/>
<text x="1231.1" y="90.7" font-size="28.3" text-anchor="end">400</text>
<text x="1231.1" y="155.7" font-size="28.3" text-anchor="end">300</text>
<text x="1231.1" y="221.4" font-size="28.3" text-anchor="end">200</text>
<text x="1231.1" y="287.0" font-size="28.3" text-anchor="end">100</text>
<text x="1231.1" y="352.4" font-size="28.3" text-anchor="end">0</text>
<text x="1168.6" y="211.7" font-size="31.5" text-anchor="middle" transform="rotate(-90 1168.6 211.7)">Size (nm)</text>
<text x="1343.3" y="385.0" font-size="28.2" text-anchor="middle">Untreated</text>
<text x="1518.3" y="385.0" font-size="28.2" text-anchor="middle">Hyperthermic</text>
<text x="1518.3" y="418.5" font-size="28.2" text-anchor="middle">stress</text>
<rect x="1325.5" y="456.2" width="15.7" height="15.6" fill="#231f20" stroke="#231f20" stroke-width="1"/>
<text x="1347.3" y="471.7" font-size="28.2" text-anchor="start">Mean</text>
<rect x="1438.7" y="457.1" width="13.9" height="13.8" fill="#fff" stroke="#231f20" stroke-width="3.2"/>
<text x="1460.0" y="471.7" font-size="28.2" text-anchor="start">Mode</text>
<text x="1105.5" y="557.0" font-size="57" text-anchor="start">F</text>
<rect x="1291.2" y="711.5" width="37.6" height="180.9" fill="#231f20" stroke="#231f20" stroke-width="1"/>
<rect x="1337.2" y="759.0" width="35.6" height="133.4" fill="#fff" stroke="#231f20" stroke-width="3.2"/>
<rect x="1449.8" y="730.7" width="38.0" height="161.7" fill="#231f20" stroke="#231f20" stroke-width="1"/>
<rect x="1496.2" y="780.7" width="35.3" height="111.7" fill="#fff" stroke="#231f20" stroke-width="3.2"/>
<line x1="1310.0" y1="710.9" x2="1310.0" y2="711.0" stroke="#231f20" stroke-width="3.0" stroke-linecap="butt"/>
<line x1="1303.0" y1="710.9" x2="1317.0" y2="710.9" stroke="#231f20" stroke-width="3.2" stroke-linecap="butt"/>
<line x1="1355.0" y1="755.9" x2="1355.0" y2="759.0" stroke="#231f20" stroke-width="3.0" stroke-linecap="butt"/>
<line x1="1348.0" y1="755.9" x2="1362.0" y2="755.9" stroke="#231f20" stroke-width="3.2" stroke-linecap="butt"/>
<line x1="1513.8" y1="775.7" x2="1513.8" y2="780.7" stroke="#231f20" stroke-width="3.0" stroke-linecap="butt"/>
<line x1="1507.3" y1="775.7" x2="1520.3" y2="775.7" stroke="#231f20" stroke-width="3.2" stroke-linecap="butt"/>
<line x1="1253.3" y1="622.3" x2="1253.3" y2="894.0" stroke="#231f20" stroke-width="3.3" stroke-linecap="butt"/>
<line x1="1251.7" y1="892.4" x2="1570.7" y2="892.4" stroke="#231f20" stroke-width="3.3" stroke-linecap="butt"/>
<text x="1229.1" y="631.4" font-size="28.3" text-anchor="end">400</text>
<text x="1229.1" y="698.7" font-size="28.3" text-anchor="end">300</text>
<text x="1229.1" y="768.0" font-size="28.3" text-anchor="end">200</text>
<text x="1229.1" y="834.7" font-size="28.3" text-anchor="end">100</text>
<text x="1229.1" y="901.7" font-size="28.3" text-anchor="end">0</text>
<text x="1166.7" y="756.7" font-size="31.5" text-anchor="middle" transform="rotate(-90 1166.7 756.7)">Size (nm)</text>
<text x="1332.3" y="935.0" font-size="28.2" text-anchor="middle">Untreated</text>
<text x="1490.7" y="935.0" font-size="28.2" text-anchor="middle">UV 24 h</text>
<rect x="1328.8" y="976.2" width="15.7" height="15.6" fill="#231f20" stroke="#231f20" stroke-width="1"/>
<text x="1350.0" y="991.7" font-size="28.2" text-anchor="start">Mean</text>
<rect x="1442.1" y="977.1" width="13.2" height="13.8" fill="#fff" stroke="#231f20" stroke-width="3.2"/>
<text x="1462.7" y="991.7" font-size="28.2" text-anchor="start">Mode</text>
<text x="1106.3" y="1094.6" font-size="57" text-anchor="start">I</text>
<rect x="1256.2" y="1248.8" width="34.0" height="169.5" fill="#231f20" stroke="#231f20" stroke-width="1"/>
<rect x="1297.9" y="1276.7" width="32.6" height="141.6" fill="#fff" stroke="#231f20" stroke-width="3.2"/>
<rect x="1398.8" y="1249.8" width="34.0" height="168.5" fill="#231f20" stroke="#231f20" stroke-width="1"/>
<rect x="1440.5" y="1276.7" width="32.3" height="141.6" fill="#fff" stroke="#231f20" stroke-width="3.2"/>
<rect x="1541.5" y="1231.5" width="33.7" height="186.8" fill="#231f20" stroke="#231f20" stroke-width="1"/>
<rect x="1583.5" y="1295.0" width="32.0" height="123.3" fill="#fff" stroke="#231f20" stroke-width="3.2"/>
<line x1="1273.0" y1="1247.3" x2="1273.0" y2="1248.3" stroke="#231f20" stroke-width="3.0" stroke-linecap="butt"/>
<line x1="1266.5" y1="1247.3" x2="1279.5" y2="1247.3" stroke="#231f20" stroke-width="3.2" stroke-linecap="butt"/>
<line x1="1314.2" y1="1266.7" x2="1314.2" y2="1276.7" stroke="#231f20" stroke-width="3.0" stroke-linecap="butt"/>
<line x1="1308.2" y1="1266.7" x2="1320.2" y2="1266.7" stroke="#231f20" stroke-width="3.2" stroke-linecap="butt"/>
<line x1="1415.8" y1="1246.7" x2="1415.8" y2="1249.3" stroke="#231f20" stroke-width="3.0" stroke-linecap="butt"/>
<line x1="1409.3" y1="1246.7" x2="1422.3" y2="1246.7" stroke="#231f20" stroke-width="3.2" stroke-linecap="butt"/>
<line x1="1456.7" y1="1270.0" x2="1456.7" y2="1276.7" stroke="#231f20" stroke-width="3.0" stroke-linecap="butt"/>
<line x1="1450.7" y1="1270.0" x2="1462.7" y2="1270.0" stroke="#231f20" stroke-width="3.2" stroke-linecap="butt"/>
<line x1="1558.3" y1="1229.0" x2="1558.3" y2="1231.0" stroke="#231f20" stroke-width="3.0" stroke-linecap="butt"/>
<line x1="1551.8" y1="1229.0" x2="1564.8" y2="1229.0" stroke="#231f20" stroke-width="3.2" stroke-linecap="butt"/>
<line x1="1599.5" y1="1291.0" x2="1599.5" y2="1295.0" stroke="#231f20" stroke-width="3.0" stroke-linecap="butt"/>
<line x1="1593.5" y1="1291.0" x2="1605.5" y2="1291.0" stroke="#231f20" stroke-width="3.2" stroke-linecap="butt"/>
<line x1="1222.7" y1="1144.0" x2="1222.7" y2="1419.9" stroke="#231f20" stroke-width="3.3" stroke-linecap="butt"/>
<line x1="1221.1" y1="1418.3" x2="1650.0" y2="1418.3" stroke="#231f20" stroke-width="3.3" stroke-linecap="butt"/>
<text x="0" y="0" font-size="26.5" text-anchor="end" transform="translate(1194.6 1152.4) scale(0.95 1)">400</text>
<text x="0" y="0" font-size="26.5" text-anchor="end" transform="translate(1194.6 1220.8) scale(0.95 1)">300</text>
<text x="0" y="0" font-size="26.5" text-anchor="end" transform="translate(1194.6 1289.1) scale(0.95 1)">200</text>
<text x="0" y="0" font-size="26.5" text-anchor="end" transform="translate(1194.6 1357.4) scale(0.95 1)">100</text>
<text x="0" y="0" font-size="26.5" text-anchor="end" transform="translate(1194.6 1425.8) scale(0.95 1)">0</text>
<text x="0" y="0" font-size="29.5" text-anchor="middle" transform="translate(1129.3 1300.5) rotate(-90) scale(0.9 1)">Size (nm)</text>
<text x="0" y="0" font-size="26.9" text-anchor="middle" transform="translate(1294.0 1462.7) scale(0.9 1)">NT</text>
<text x="0" y="0" font-size="26.9" text-anchor="middle" transform="translate(1436.0 1462.7) scale(0.9 1)">LPS</text>
<text x="0" y="0" font-size="26.9" text-anchor="middle" transform="translate(1578.3 1462.7) scale(0.9 1)">LPS/N</text>
<rect x="1316.2" y="1493.8" width="16.6" height="16.4" fill="#231f20" stroke="#231f20" stroke-width="1"/>
<text x="0" y="0" font-size="27.5" text-anchor="start" transform="translate(1340.0 1508.3) scale(0.975 1)">Mean</text>
<rect x="1428.1" y="1494.7" width="14.8" height="14.6" fill="#fff" stroke="#231f20" stroke-width="3.2"/>
<text x="0" y="0" font-size="27.5" text-anchor="start" transform="translate(1451.7 1508.3) scale(0.975 1)">Mode</text>
<text x="1105.5" y="1652.7" font-size="57" text-anchor="start">L</text>
<rect x="1297.8" y="1780.5" width="39.4" height="184.5" fill="#231f20" stroke="#231f20" stroke-width="1"/>
<rect x="1347.2" y="1820.0" width="38.3" height="145.0" fill="#fff" stroke="#231f20" stroke-width="3.2"/>
<rect x="1468.8" y="1770.5" width="40.0" height="194.5" fill="#231f20" stroke="#231f20" stroke-width="1"/>
<rect x="1518.5" y="1813.3" width="38.0" height="151.7" fill="#fff" stroke="#231f20" stroke-width="3.2"/>
<line x1="1317.5" y1="1778.5" x2="1317.5" y2="1780.0" stroke="#231f20" stroke-width="3.0" stroke-linecap="butt"/>
<line x1="1310.5" y1="1778.5" x2="1324.5" y2="1778.5" stroke="#231f20" stroke-width="3.2" stroke-linecap="butt"/>
<line x1="1366.3" y1="1812.3" x2="1366.3" y2="1820.0" stroke="#231f20" stroke-width="3.0" stroke-linecap="butt"/>
<line x1="1359.8" y1="1812.3" x2="1372.8" y2="1812.3" stroke="#231f20" stroke-width="3.2" stroke-linecap="butt"/>
<line x1="1488.8" y1="1768.5" x2="1488.8" y2="1770.0" stroke="#231f20" stroke-width="3.0" stroke-linecap="butt"/>
<line x1="1481.8" y1="1768.5" x2="1495.8" y2="1768.5" stroke="#231f20" stroke-width="3.2" stroke-linecap="butt"/>
<line x1="1537.5" y1="1805.7" x2="1537.5" y2="1813.3" stroke="#231f20" stroke-width="3.0" stroke-linecap="butt"/>
<line x1="1531.0" y1="1805.7" x2="1544.0" y2="1805.7" stroke="#231f20" stroke-width="3.2" stroke-linecap="butt"/>
<line x1="1256.7" y1="1677.3" x2="1256.7" y2="1966.6" stroke="#231f20" stroke-width="3.3" stroke-linecap="butt"/>
<line x1="1255.1" y1="1965.0" x2="1599.0" y2="1965.0" stroke="#231f20" stroke-width="3.3" stroke-linecap="butt"/>
<text x="1231.1" y="1687.0" font-size="28.3" text-anchor="end">400</text>
<text x="1231.1" y="1758.0" font-size="28.3" text-anchor="end">300</text>
<text x="1231.1" y="1830.7" font-size="28.3" text-anchor="end">200</text>
<text x="1231.1" y="1902.4" font-size="28.3" text-anchor="end">100</text>
<text x="1231.1" y="1973.7" font-size="28.3" text-anchor="end">0</text>
<text x="1168.3" y="1820.5" font-size="31.5" text-anchor="middle" transform="rotate(-90 1168.3 1820.5)">Size (nm)</text>
<text x="1341.7" y="2006.7" font-size="28.2" text-anchor="middle">Untreated</text>
<text x="1512.3" y="2006.7" font-size="28.2" text-anchor="middle">UV 4 h</text>
<rect x="1316.2" y="2048.8" width="15.0" height="15.7" fill="#231f20" stroke="#231f20" stroke-width="1"/>
<text x="1337.3" y="2063.3" font-size="28.2" text-anchor="start">Mean</text>
<rect x="1429.7" y="2049.7" width="12.9" height="13.9" fill="#fff" stroke="#231f20" stroke-width="3.2"/>
<text x="1450.0" y="2063.3" font-size="28.2" text-anchor="start">Mode</text>
</svg>
</body></html>
